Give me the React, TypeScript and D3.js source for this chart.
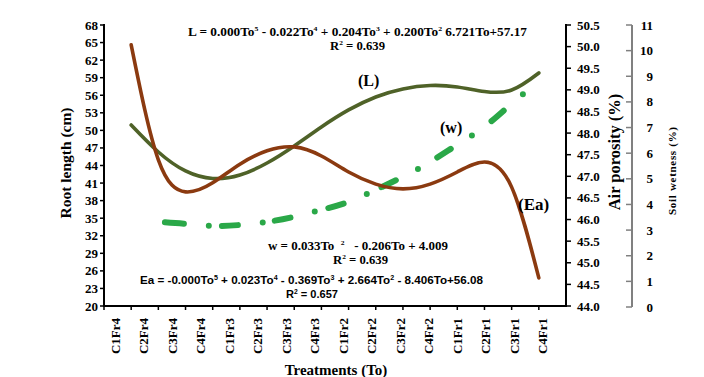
import React from "react";
import * as d3 from "d3";

const categories = ["C1Fr4","C2Fr4","C3Fr4","C4Fr4","C1Fr3","C2Fr3","C3Fr3","C4Fr3","C1Fr2","C2Fr2","C3Fr2","C4Fr2","C1Fr1","C2Fr1","C3Fr1","C4Fr1"];
const rootLength = [50.92, 46.31, 43.07, 41.78, 42.38, 44.43, 47.34, 50.58, 53.49, 55.71, 57.08, 57.67, 57.42, 56.65, 56.90, 59.81];
const airPorosity = [50.04, 47.38, 46.64, 46.85, 47.28, 47.59, 47.68, 47.47, 47.10, 46.82, 46.71, 46.82, 47.10, 47.33, 46.75, 44.65];
const soilWetness = [null, 3.32, 3.24, 3.16, 3.20, 3.32, 3.52, 3.79, 4.10, 4.57, 5.08, 5.66, 6.33, 7.03, 7.93, 8.79];
const rootTicks = [20,23,26,29,32,35,38,41,44,47,50,53,56,59,62,65,68];
const airTicks = [44.0,44.5,45.0,45.5,46.0,46.5,47.0,47.5,48.0,48.5,49.0,49.5,50.0,50.5];
const wetTicks = [0,1,2,3,4,5,6,7,8,9,10,11];

const SERIF = "'Liberation Serif', 'Times New Roman', serif";
const SANS = "'Liberation Sans', Arial, sans-serif";

type Part = [string, boolean?];

function Eq({ x, y, parts, width, size, family }: { x: number; y: number; parts: Part[]; width: number; size: number; family: string }) {
  const sup = Math.round(size * 0.62);
  const shift = size * 0.38;
  const nodes: any[] = [];
  let raised = false;
  parts.forEach((p, i) => {
    const [t, s] = p;
    if (s) {
      nodes.push(<tspan key={i} dy={-shift} fontSize={sup}>{t}</tspan>);
      raised = true;
    } else {
      nodes.push(<tspan key={i} dy={raised ? shift : 0} fontSize={size}>{t}</tspan>);
      raised = false;
    }
  });
  return (
    <text x={x} y={y} fontFamily={family} fontWeight="bold" fontSize={size} textLength={width} lengthAdjust="spacingAndGlyphs" style={{ whiteSpace: "pre" }} fill="#000">
      {nodes}
    </text>
  );
}

export default function App() {
  const W = 704, H = 377;
  const x = d3.scaleLinear().domain([0, 17]).range([104, 566]);
  const xl = d3.scalePoint<string>().domain(categories).range([115, 542]);
  const yL = d3.scaleLinear().domain([20, 68]).range([306, 25]);
  const yA = d3.scaleLinear().domain([44, 50.5]).range([306, 25]);
  const yW = d3.scaleLinear().domain([0, 11]).range([307, 25]);

  const curve = d3.curveNatural;
  const lineL = d3.line<number>().x((_, i) => x(i + 1)).y((d) => yL(d)).curve(curve);
  const lineA = d3.line<number>().x((_, i) => x(i + 1)).y((d) => yA(d)).curve(curve);
  const lineW = d3.line<number | null>().defined((d) => d != null).x((_, i) => x(i + 1)).y((d) => yW(d as number)).curve(curve);

  // dash-dot pattern (dash, gap, dot, gap) with growing spacing as in the reference
  const gaps2 = [13.1, 12.2, 14.0, 16.2, 22.3, 24.4];
  const dash: number[] = [19, 25, 0];
  gaps2.forEach((g) => dash.push(g, 16, 25, 0));
  dash.push(3000);
  const xTicks = d3.range(0, 17);

  return (
    <svg width={W} height={H} style={{ position: "absolute", left: 0, top: 0, background: "#fff" }}>
      <rect width={W} height={H} fill="#fff" />
      <path d={lineW(soilWetness) || ""} fill="none" stroke="#2aa848" strokeWidth={6} strokeLinecap="round" strokeDasharray={dash.join(" ")} strokeDashoffset={-6.6} />
      <path d={lineL(rootLength) || ""} fill="none" stroke="#4f6228" strokeWidth={3.6} strokeLinecap="round" />
      <path d={lineA(airPorosity) || ""} fill="none" stroke="#8b3a10" strokeWidth={3.6} strokeLinecap="round" />

      <line x1={104} x2={104} y1={yL(68) - 1} y2={306} stroke="#000" strokeWidth={2} />
      {rootTicks.map((t) => (
        <g key={"l" + t}>
          <line x1={100} x2={104} y1={yL(t)} y2={yL(t)} stroke="#000" strokeWidth={1.5} />
          <text x={98} y={yL(t) + 4.5} textAnchor="end" fontFamily={SERIF} fontWeight="bold" fontSize={13}>{t}</text>
        </g>
      ))}
      <line x1={103} x2={567} y1={306} y2={306} stroke="#000" strokeWidth={2} />
      {xTicks.map((t) => (
        <line key={"bt" + t} x1={x(t)} x2={x(t)} y1={306} y2={310} stroke="#000" strokeWidth={1.5} />
      ))}
      {categories.map((c) => (
        <text key={c} transform={`translate(${(xl(c) as number) + 5},318) rotate(-90)`} textAnchor="end" fontFamily={SERIF} fontWeight="bold" fontSize={13}>{c}</text>
      ))}
      <line x1={566} x2={566} y1={yA(50.5) - 1} y2={307} stroke="#000" strokeWidth={2} />
      {airTicks.map((t) => (
        <g key={"a" + t}>
          <line x1={566} x2={571} y1={yA(t)} y2={yA(t)} stroke="#000" strokeWidth={1.5} />
          <text x={577} y={yA(t) + 4.5} fontFamily={SERIF} fontWeight="bold" fontSize={13}>{t.toFixed(1)}</text>
        </g>
      ))}
      <line x1={632} x2={632} y1={yW(11)} y2={yW(0)} stroke="#808080" strokeWidth={2} />
      {wetTicks.map((t) => (
        <g key={"w" + t}>
          <line x1={626} x2={632} y1={yW(t)} y2={yW(t)} stroke="#808080" strokeWidth={1.5} />
          <text x={653} y={yW(t) + 4.5} textAnchor="end" fontFamily={SERIF} fontWeight="bold" fontSize={13}>{t}</text>
        </g>
      ))}

      <text transform="translate(71,163) rotate(-90)" textAnchor="middle" fontFamily={SERIF} fontWeight="bold" fontSize={15.5}>Root length (cm)</text>
      <text transform="translate(620,152) rotate(-90)" textAnchor="middle" fontFamily={SERIF} fontWeight="bold" fontSize={16.5}>Air porosity (%)</text>
      <text transform="translate(676,171) rotate(-90)" textAnchor="middle" fontFamily={SERIF} fontWeight="bold" fontSize={11} textLength={88} lengthAdjust="spacing">Soil wetness (%)</text>
      <text x={336} y={375} textAnchor="middle" fontFamily={SERIF} fontWeight="bold" fontSize={15}>Treatments (To)</text>

      <Eq x={188} y={36} width={339} size={12} family={SERIF} parts={[["L = 0.000To"], ["5", true], [" - 0.022To"], ["4", true], [" + 0.204To"], ["3", true], [" + 0.200To"], ["2", true], [" 6.721To+57.17"]]} />
      <Eq x={330} y={50} width={55} size={12} family={SERIF} parts={[["R"], ["2", true], [" = 0.639"]]} />
      <Eq x={268} y={250} width={180} size={12} family={SERIF} parts={[["w = 0.033To  "], ["2", true], ["   - 0.206To + 4.009"]]} />
      <Eq x={333} y={264} width={55} size={12} family={SERIF} parts={[["R"], ["2", true], [" = 0.639"]]} />
      <Eq x={140} y={284} width={343} size={11.5} family={SANS} parts={[["Ea = -0.000To"], ["5", true], [" + 0.023To"], ["4", true], [" - 0.369To"], ["3", true], [" + 2.664To"], ["2", true], [" - 8.406To+56.08"]]} />
      <Eq x={286} y={298} width={52} size={11.5} family={SANS} parts={[["R"], ["2", true], [" = 0.657"]]} />

      <text x={358} y={86} fontFamily={SERIF} fontWeight="bold" fontSize={16}>(L)</text>
      <text x={440} y={133} fontFamily={SERIF} fontWeight="bold" fontSize={16}>(w)</text>
      <text x={518} y={210} fontFamily={SERIF} fontWeight="bold" fontSize={17}>(Ea)</text>
    </svg>
  );
}
